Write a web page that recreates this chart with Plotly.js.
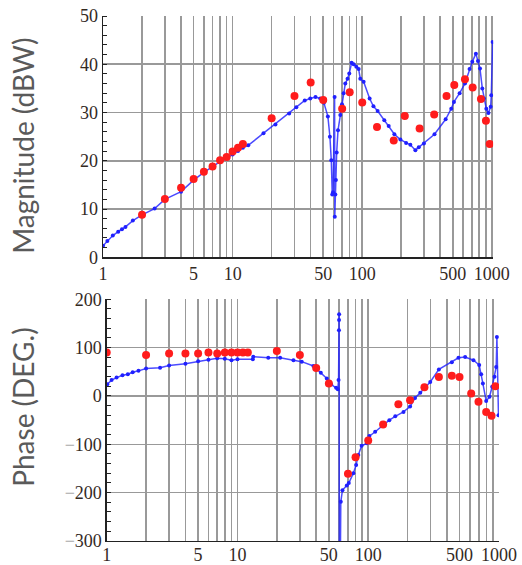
<!DOCTYPE html>
<html>
<head>
<meta charset="utf-8">
<script src="https://cdn.plot.ly/plotly-3.0.1.min.js"></script>
<style>html,body{margin:0;padding:0;background:#fff;}#chart{width:522px;height:565px;}</style>
</head>
<body>
<div id="chart"></div>
<script>
// Simulated magnitude (blue)
const magFreq = [1, 1.08, 1.19, 1.31, 1.4, 1.49, 1.7, 2, 2.5, 3, 4, 5, 6, 7, 8, 9, 10, 11, 12, 13.2, 17.3, 21.4, 27.3, 31, 36, 39.7, 43.6, 47.4, 50.6, 54.3, 56.3, 57.7, 58.7, 59.5, 61.2, 61.4, 62, 62.6, 63.5, 65, 67.7, 69.8, 71.8, 74, 77, 79.4, 82.8, 85.8, 90, 93.8, 96.6, 102.5, 114, 122, 131.5, 148, 160, 177, 197, 218, 235, 257, 273, 299, 361, 440, 486, 510, 564, 620, 673, 706, 753, 781, 810, 844, 869, 906, 940, 979, 990, 1014];
const magVal = [2.4, 3.4, 4.5, 5.3, 5.8, 6.3, 7.6, 8.8, 10.1, 12, 13.6, 16, 17.6, 18.8, 19.8, 20.5, 21.3, 22, 22.7, 23.2, 25.7, 27.5, 29.8, 31.1, 32.5, 32.9, 33.2, 32.9, 32.0, 29.2, 25, 20.1, 13, 13.5, 33.2, 8.4, 13, 16, 21.7, 26.3, 29.5, 31.7, 34, 36, 37, 38.1, 40.3, 40, 39.5, 39, 37, 36.4, 32.9, 31.3, 30.3, 28.4, 27.2, 25.5, 24.4, 23.7, 23.3, 22.2, 22.8, 23.6, 25.5, 28.6, 30.8, 32.2, 34, 36, 39, 40.5, 42.2, 40.7, 39.1, 35, 32.9, 30.8, 29.9, 31.2, 33.6, 44.6];

// Measured magnitude (red)
const expMagFreq = [2, 3, 4, 5, 6, 7, 8, 9, 10, 11, 12, 20, 30, 40, 50, 70, 80, 100, 130, 175, 213, 277, 359, 447, 513, 620, 711, 824, 900, 962];
const expMag = [8.8, 12.1, 14.4, 16.2, 17.7, 18.8, 20.1, 20.8, 21.9, 22.7, 23.5, 28.8, 33.4, 36.2, 32.6, 30.8, 34.2, 32.1, 27.0, 24.2, 29.3, 26.7, 29.6, 33.4, 35.7, 36.9, 35.2, 32.8, 28.3, 23.5];

// Simulated phase (blue)
const phFreq = [1.01, 1.09, 1.19, 1.32, 1.45, 1.58, 1.75, 2, 2.56, 3, 4, 5, 6, 7, 8, 9, 10, 13.1, 13.2, 17.2, 21.2, 26.8, 31, 38.1, 43.4, 48.2, 52, 56.8, 58.5, 59.3, 59.7, 59.8, 59.9, 60.2, 61.7, 63.5, 68.6, 71, 77, 80.8, 84, 89, 97.7, 102, 113, 127, 145, 161, 186, 209, 228, 250, 298, 347, 436, 490, 551, 638, 706, 731, 753, 798, 846, 887, 924, 952, 964, 991];
const phVal = [24, 33, 38, 43, 45, 49, 52, 57, 58.6, 63, 66.6, 72, 75, 78, 77, 74, 76, 76, 81, 79, 79, 74, 71, 62, 48, 36, 24, 17, 14, 33, 136, 157, 169, -600, -219, -195, -185, -180, -160, -143, -122, -103, -98, -83, -74, -62, -50, -42, -33, -22, -4, 6.6, 29, 55, 70, 79, 80.5, 74, 64, 45, 26, -10.6, -1.7, 19, 40, 60, 122, -40];

// Measured phase (red)
const expPhFreq = [1, 2, 3, 4, 5, 6, 7, 8, 9, 10, 11, 12, 20, 30, 40, 50, 70, 80, 100, 130, 170, 209, 269, 347, 436, 499, 613, 697, 798, 877, 940];
const expPh = [90, 85, 88, 88, 88, 90, 88, 90, 90, 90, 90, 90, 93, 85, 58, 26, -161, -127, -92, -59, -17, -9, 18, 39, 42, 39, 5, -12, -33, -41, 20];

// Axis tick labels
const labeledTicks = [1, 5, 10, 50, 100, 500, 1000];
const gridTicks = [];
[1, 10, 100].forEach(d => { for (let k = 1; k < 10; k++) gridTicks.push(k * d); });
gridTicks.push(1000);
const gridText = gridTicks.map(v => labeledTicks.includes(v) ? String(v) : '');
const magTicks = [0, 10, 20, 30, 40, 50];
const phTicks = [-300, -200, -100, 0, 100, 200];
const phText = phTicks.map(v => v < 0 ? '<span style="color:#a8a8a8">\u2212</span>' + Math.abs(v) : String(v));

const blueLine = {color: 'rgba(30,30,255,0.8)', width: 1.5};
const blueMarker = {color: '#2020ff', size: 4};
const redMarker = {color: '#ff1c1c', size: 8};

const traces = [
  {x: magFreq, y: magVal, xaxis: 'x', yaxis: 'y', mode: 'lines+markers', line: blueLine, marker: blueMarker, cliponaxis: true},
  {x: expMagFreq, y: expMag, xaxis: 'x', yaxis: 'y', mode: 'markers', marker: redMarker, cliponaxis: true},
  {x: phFreq, y: phVal, xaxis: 'x2', yaxis: 'y2', mode: 'lines+markers', line: blueLine, marker: blueMarker, cliponaxis: true},
  {x: expPhFreq, y: expPh, xaxis: 'x2', yaxis: 'y2', mode: 'markers', marker: redMarker, cliponaxis: true}
];

const tickFont = {family: '"Liberation Serif", "DejaVu Serif", serif', size: 18, color: '#33291f'};
const gridColor = '#999999';

function xAxis(dom, anchor, range, standoff) {
  return {
    type: 'log', range: range, domain: dom, anchor: anchor,
    tickmode: 'array', tickvals: gridTicks, ticktext: gridText,
    showgrid: true, gridcolor: gridColor, gridwidth: 1.6,
    ticks: '', showline: true, linecolor: '#222', linewidth: 1.3,
    tickfont: tickFont, zeroline: false, ticklabelstandoff: standoff
  };
}
function yAxis(dom, anchor, range, vals, text, minorDtick) {
  return {
    range: range, domain: dom, anchor: anchor,
    tickmode: 'array', tickvals: vals, ticktext: text,
    showgrid: true, gridcolor: gridColor, gridwidth: 1.6,
    ticks: '', showline: true, linecolor: '#222', linewidth: 1.3,
    minor: {dtick: minorDtick, ticks: 'inside', ticklen: 4, tickcolor: '#222', tickwidth: 1, showgrid: false},
    tickfont: tickFont, zeroline: false
  };
}

const titleFont = {family: 'Lato, "Open Sans", sans-serif', size: 28, color: '#5a5a5a'};

const layout = {
  width: 522, height: 565,
  margin: {l: 100, r: 20, t: 16, b: 24},
  showlegend: false,
  paper_bgcolor: '#fff', plot_bgcolor: '#fff',
  xaxis: xAxis([0.0075, 0.978], 'y', [0, 3.01], 0),
  yaxis: yAxis([0.5404, 1], 'x', [0, 50], magTicks, magTicks.map(String), 2),
  xaxis2: xAxis([0.0167, 0.9925], 'y2', [0, 3.0], -3),
  yaxis2: yAxis([0, 0.4604], 'x2', [-300, 200], phTicks, phText, 20),
  annotations: [
    {text: 'Magnitude (dBW)', xref: 'paper', yref: 'paper', x: -0.19, y: 0.752, textangle: -90,
     showarrow: false, xanchor: 'center', yanchor: 'middle', font: titleFont},
    {text: 'Phase (DEG.)', xref: 'paper', yref: 'paper', x: -0.19, y: 0.255, textangle: -90,
     showarrow: false, xanchor: 'center', yanchor: 'middle', font: titleFont}
  ]
};

Plotly.newPlot('chart', traces, layout, {staticPlot: true, displayModeBar: false});
</script>
</body>
</html>
